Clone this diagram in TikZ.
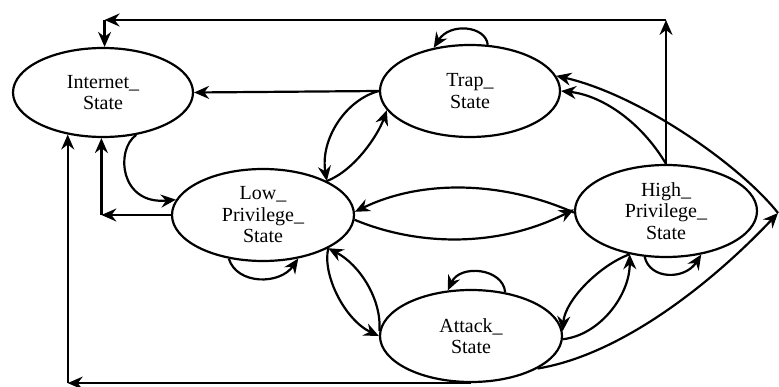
\documentclass[tikz,border=0pt]{standalone}
\usepackage{fontspec}
\setmainfont{Liberation Serif}
\usetikzlibrary{shapes.geometric,arrows.meta}
\begin{document}
\begin{tikzpicture}[x=1pt,y=-1pt,
  st/.style={draw,ellipse,line width=2.2pt,inner sep=0pt,minimum width=182pt,minimum height=92pt,align=center,font=\fontsize{20}{21.5}\selectfont},
  ar/.style={line width=2.2pt,-{Stealth[length=15pt,width=13pt,inset=5pt]}}]
\useasboundingbox (0,0) rectangle (779,387);
\node[st,minimum width=180pt,minimum height=89pt] (inet) at (103,92.5) {Internet\_\\State};
\node[st,minimum width=180pt] (trap) at (470,91) {Trap\_\\State};
\node[st] (low) at (263,215) {Low\_\\Privilege\_\\State};
\node[st] (high) at (666,211) {High\_\\Privilege\_\\State};
\node[st] (attack) at (471,336) {Attack\_\\State};
\coordinate (topy) at (0,20);
\coordinate (c1) at (high.north |- topy);
\coordinate (c2) at (inet.88 |- topy);
\coordinate (c3) at (inet.268 |- low.west);
\coordinate (c4) at (inet.230 |- attack.south);
\coordinate (apex) at (778,213);
% top loop
\draw[ar] (high.north) -- (c1);
\draw[ar] (c1) -- (c2);
\draw[ar] (c2) -- (inet.88);
% trap to internet
\draw[ar] (trap.west) -- (inet.east);
% internet to low
\draw[ar] (inet.308) .. controls (115,150) and (120,205) .. (low.170);
% low to internet elbow
\draw[ar] (low.west) -- (c3);
\draw[ar] (c3) -- (inet.268);
% attack to internet long
\draw[ar] (attack.south) -- (c4);
\draw[ar] (c4) -- (inet.230);
% trap <-> low
\draw[ar] (trap.west) .. controls (345,100) and (320,140) .. (low.28);
\draw[ar] (low.28) .. controls (355,170) and (378,135) .. (trap.193);
% low <-> high
\draw[ar] (high.181) .. controls (500,180) and (420,180) .. (low.2);
\draw[ar] (low.-3) .. controls (420,247) and (500,247) .. (high.179);
% low <-> attack
\draw[ar] (low.-27) .. controls (322,275) and (345,320) .. (attack.180);
\draw[ar] (attack.177) .. controls (382,300) and (360,265) .. (low.-27);
% attack <-> high
\draw[ar] (high.230) .. controls (600,265) and (565,300) .. (attack.3);
\draw[ar] (attack.-2) .. controls (600,335) and (630,295) .. (high.230);
% high to trap
\draw[ar] (high.north) .. controls (640,120) and (600,95) .. (trap.east);
% attack via apex to trap
\draw[ar] (attack.334) .. controls (620,355) and (710,285) .. (apex);
\draw[ar] (apex) .. controls (740,165) and (640,95) .. (trap.10);
% self loops
\draw[ar] (trap.69) .. controls (486,26) and (450,22) .. (trap.130);
\draw[ar] (attack.52) .. controls (503,268) and (460,264) .. (attack.117);
\draw[ar] (low.232) .. controls (237,285) and (280,285) .. (low.309);
\draw[ar] (high.245) .. controls (650,280) and (685,280) .. (high.309);
\end{tikzpicture}
\end{document}
